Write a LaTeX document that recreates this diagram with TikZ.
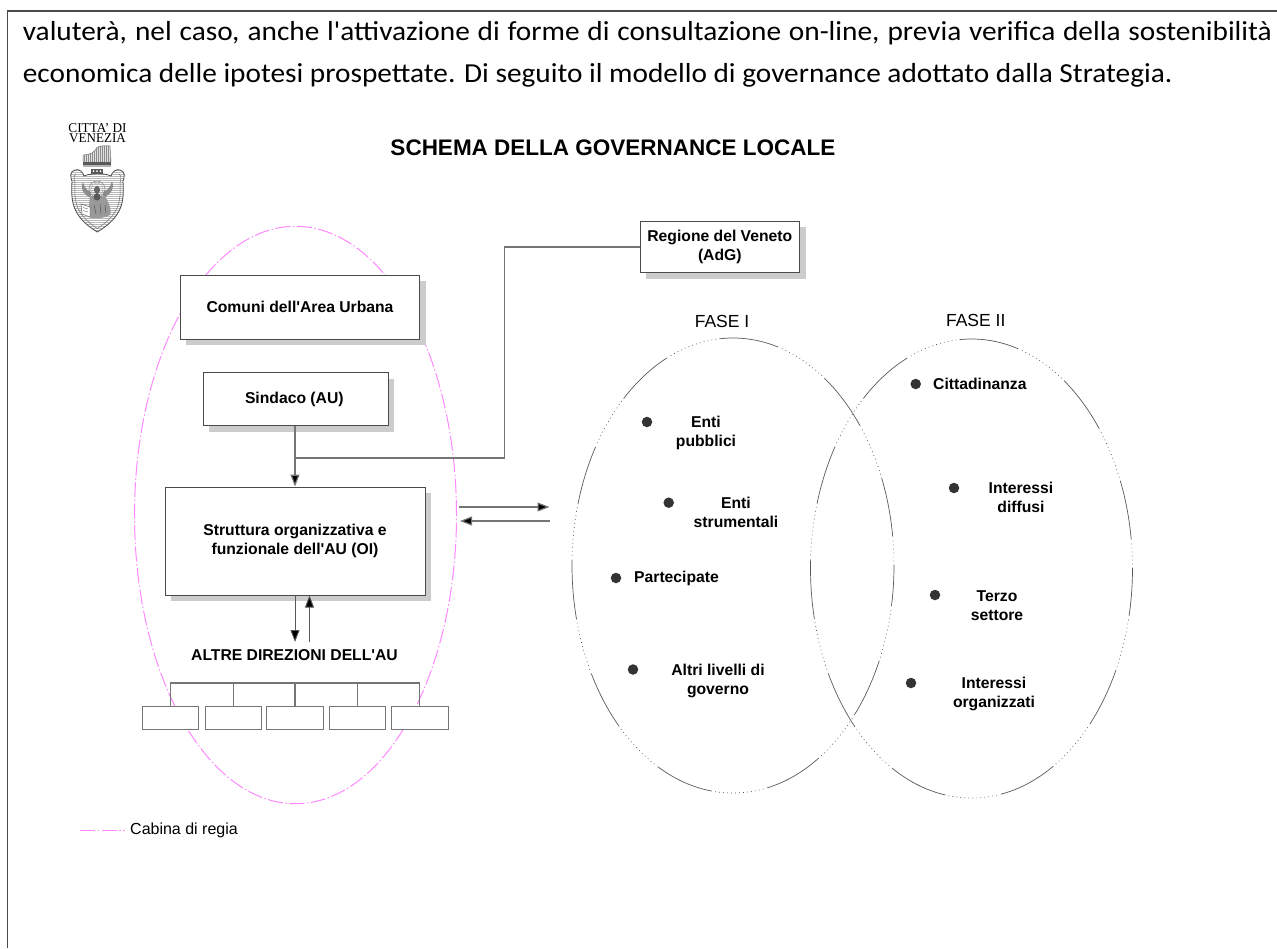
\documentclass[tikz,border=0pt]{standalone}
\usepackage{fontspec}
\usepackage{graphicx}
\setmainfont{Liberation Sans}[Ligatures=TeXOff]
\newfontfamily\bodyfont[FakeStretch=1.066]{Carlito}
\newfontfamily\logofont{Liberation Serif}
\usetikzlibrary{shapes.geometric,shadows,arrows.meta}
\definecolor{linecol}{HTML}{4A4A4A}
\definecolor{conncol}{HTML}{757575}
\definecolor{shadowcol}{HTML}{CCCCCC}
\definecolor{regia}{HTML}{FF88FF}
\definecolor{dotcol}{HTML}{333333}
\tikzset{
  box/.style={draw=linecol,fill=white,line width=.9pt,inner sep=0pt,align=center,
    font=\bfseries\fontsize{15.7}{19}\selectfont},
  shadowbox/.style={box,general shadow={fill=shadowcol,shadow xshift=6pt,shadow yshift=-6pt}},
  smallbox/.style={draw=conncol,fill=white,line width=1pt,inner sep=0pt,minimum height=23pt},
  conn/.style={draw=conncol,line width=1.2pt},
  thin conn/.style={draw=black!65,line width=.9pt},
  tip/.style={-{Triangle[length=12pt,width=9pt,fill=black]}},
  label/.style={align=center,inner sep=0pt,font=\bfseries\fontsize{15.7}{19}\selectfont},
  leftlabel/.style={label,anchor=west},
  phase/.style={inner sep=0pt,font=\fontsize{17.5}{20}\selectfont},
  bullet/.style={circle,fill=dotcol,inner sep=0pt,minimum size=10.5pt},
  fase/.style={ellipse,draw=black!65,inner sep=0pt,line width=.7pt,minimum width=322pt,
    dash pattern=on 60pt off 3.2pt on .8pt off 3.2pt on .8pt off 3.2pt on .8pt off 3.2pt on .8pt off 3.2pt on .8pt off 3.2pt on .8pt off 3.2pt on .8pt off 3.2pt on .8pt off 3.2pt on .8pt off 3.2pt on .8pt off 3.2pt on .8pt off 3.2pt on .8pt off 3.2pt on .8pt off 4pt,
    dash phase=87pt},
  regialine/.style={draw=regia,line width=1pt,dash pattern=on 15pt off 2.5pt on 1.5pt off 2.5pt},
  body/.style={anchor=base west,inner sep=0pt,font=\bodyfont\fontsize{27.5}{32}\selectfont},
}
\begin{document}
\begin{tikzpicture}[x=1pt,y=-1pt]
\useasboundingbox (0,0) rectangle (1277,948);
% page frame
\draw[line width=1.6pt,draw=linecol] (7.5,948) -- (7.5,11) -- (1277,11);
% body text
\node[body] (l1) at (22.7,40) {\makebox[1249pt][s]{valuterà, nel caso, anche l'attivazione di forme di consultazione on-line, previa verifica della sostenibilità}};
\node[body] (l2) at (22.7,82.7) {economica delle ipotesi prospettate. Di seguito il modello di governance adottato dalla Strategia.};
% title
\node[inner sep=0pt,font=\bfseries\fontsize{22.5}{26}\selectfont] (title) at (613,148) {SCHEMA DELLA GOVERNANCE LOCALE};
% logo
\node[inner sep=0pt,align=center,font=\logofont\fontsize{13.5}{10}\selectfont] (logotext) at (97.5,133) {\scalebox{.98}[1]{CITTA’ DI}\\\scalebox{.97}[1]{VENEZIA}};
% piano
\begin{scope}
\clip (83,162) -- (83,155) .. controls (90,155) and (95,152) .. (97,147.5) .. controls (100,145.5) and (106,145.5) .. (110,146) -- (111,162) -- cycle;
\fill[black!12] (80,144) rectangle (113,163);
\foreach \px in {84,86,...,110} \draw[black!45,line width=.45pt] (\px,144) -- (\px,163);
\end{scope}
\draw[black!55,line width=.5pt] (83,162) -- (83,155) .. controls (90,155) and (95,152) .. (97,147.5) .. controls (100,145.5) and (106,145.5) .. (110,146) -- (111,162);
\fill[black!65] (83,162) rectangle (111,165);
\fill[black!30] (83,165) rectangle (111,166.5);
% shield
\def\shieldouter{(75,170) .. controls (70,171) and (70,177) .. (72,181)
  .. controls (71,200) and (71,216) .. (97.3,232) .. controls (124,216) and (124,200) .. (123,181)
  .. controls (125,177) and (125,171) .. (120,170) .. controls (116,168.5) and (112,172) .. (111,176)
  .. controls (105,173) and (90,173) .. (84,176) .. controls (83,172) and (79,168.5) .. (75,170) -- cycle}
\fill[white] \shieldouter;
\begin{scope}
\clip \shieldouter;
\foreach \py in {168,170,...,232} \draw[black!28,line width=.55pt] (68,\py) -- (127,\py);
\end{scope}
\draw[black!70,line width=.8pt] \shieldouter;
\draw[black!55,line width=.5pt] (76,174) .. controls (73,176) and (74,180) .. (75,183)
  .. controls (74,200) and (75,214) .. (97.3,228.5) .. controls (120,214) and (121,200) .. (120,183)
  .. controls (121,180) and (122,176) .. (119,174);
\fill[black!65] (91,168.5) rectangle (103,174);
\fill[white] (93.5,171) circle (1) (97,171) circle (1) (100.5,171) circle (1);
% winged lion
\draw[black!50,line width=.5pt] (97,189) circle (8);
\draw[black!35,line width=.4pt] (97,189) circle (6);
\fill[black!45] (91,198) .. controls (82,194) and (80,187) .. (83,182) .. controls (85,189) and (88,191) .. (91,192) -- cycle;
\fill[black!45] (103,198) .. controls (112,194) and (115,187) .. (112,181) .. controls (110,189) and (106,191) .. (103,192) -- cycle;
\fill[black!40] (90,196) -- (105,196) .. controls (110,205) and (112,212) .. (110,215) .. controls (102,219) and (94,219) .. (88,217) -- cycle;
\fill[black!60] (97,190) ellipse (3 and 4.2);
\fill[black!65] (97,197) ellipse (3.5 and 3.5);
\fill[white,draw=black!60,line width=.5pt] (81,204) -- (90,207) -- (90,217) -- (82,214) -- cycle;
\draw[black!60,line width=.4pt] (83,207.5) -- (88,209) (83,210.5) -- (88,212);
\draw[black!65,line width=.5pt] (94,205) -- (96,214) (100,204) -- (101,214) (105,205) -- (106,213);
% cabina di regia
\node[ellipse,regialine,inner sep=0pt,minimum width=322pt,minimum height=577.4pt] (cabina) at (295.5,515) {};
\coordinate (lega) at (80,830);
\coordinate (legb) at (125,830);
\draw[regialine] (lega) -- (legb);
\node[anchor=west,inner sep=0pt,font=\fontsize{16}{19}\selectfont] (legt) at (130,830) {Cabina di regia};
% boxes
\node[shadowbox,minimum width=239.4pt,minimum height=64pt] (comuni) at (300,307.3) {Comuni dell'Area Urbana};
\node[shadowbox,minimum width=185pt,minimum height=53pt] (sindaco) at (295.8,399.2) {\hspace*{-3pt}Sindaco (AU)};
\node[shadowbox,minimum width=260pt,minimum height=108pt] (struttura) at (295,541) {Struttura organizzativa e\\funzionale dell'AU (OI)};
\node[shadowbox,minimum width=159.7pt,minimum height=51.7pt] (regione) at (719.8,246.9) {Regione del Veneto\\(AdG)};
% connectors sindaco
\coordinate (junction) at (295,458);
\coordinate (bend) at (504.7,458);
\draw[conn,tip] (sindaco.south -| struttura.north) -- (struttura.north);
\draw[conn] (junction) -- (bend) -- (bend |- regione.west) -- (regione.west);
% altre direzioni
\node[label] (altre) at (294.5,655) {ALTRE DIREZIONI DELL'AU};
\coordinate (downend) at (295,642);
\coordinate (upstart) at (309.5,642);
\coordinate (uptop) at (309.5,595.5);
\draw[thin conn,tip] (struttura.south) -- (downend);
\draw[thin conn,tip] (upstart) -- (uptop);
% small boxes
\node[smallbox,minimum width=56pt] (b1) at (170.6,717.5) {};
\node[smallbox,minimum width=56.5pt] (b2) at (233.3,717.5) {};
\node[smallbox,minimum width=56.5pt] (b3) at (295,717.5) {};
\node[smallbox,minimum width=56pt] (b4) at (357.5,717.5) {};
\node[smallbox,minimum width=57pt] (b5) at (419.5,717.5) {};
\coordinate (bus) at (295,683);
\draw[conn] (b1.north) -- (b1.north |- bus) -- (b5.north |- bus) -- (b5.north);
\draw[conn] (b2.north) -- (b2.north |- bus);
\draw[conn] (b3.north) -- (b3.north |- bus);
\draw[conn] (b4.north) -- (b4.north |- bus);
% exchange arrows
\coordinate (ra) at (459,507);
\coordinate (rb) at (549.5,507);
\coordinate (la) at (550,521);
\coordinate (lb) at (460,521);
\draw[conn,tip] (ra) -- (rb);
\draw[conn,tip] (la) -- (lb);
% phases
\node[fase,minimum height=455pt] (fase1) at (733,565.5) {};
\node[fase,minimum height=459pt] (fase2) at (971.5,568.5) {};
\node[phase] (f1t) at (722,321) {FASE I};
\node[phase] (f2t) at (975.7,320) {FASE II};
% fase I items
\node[bullet] (d1) at (647,422) {};
\node[label] (t1) at (706,433) {Enti\\pubblici};
\node[bullet] (d2) at (668.7,502.7) {};
\node[label] (t2) at (736,512.2) {Enti\\strumentali};
\node[bullet] (d3) at (616,578) {};
\node[leftlabel] (t3) at (634,578) {Partecipate};
\node[bullet] (d4) at (633,669.5) {};
\node[label] (t4) at (718,681) {Altri livelli di\\governo};
% fase II items
\node[bullet] (d5) at (915.7,384) {};
\node[leftlabel] (t5) at (933,384) {Cittadinanza};
\node[bullet] (d6) at (954,488) {};
\node[label] (t6) at (1021,497.5) {Interessi\\diffusi};
\node[bullet] (d7) at (935,595) {};
\node[label] (t7) at (997,605.5) {Terzo\\settore};
\node[bullet] (d8) at (911,683) {};
\node[label] (t8) at (994,694) {Interessi\\organizzati};
\end{tikzpicture}
\end{document}
